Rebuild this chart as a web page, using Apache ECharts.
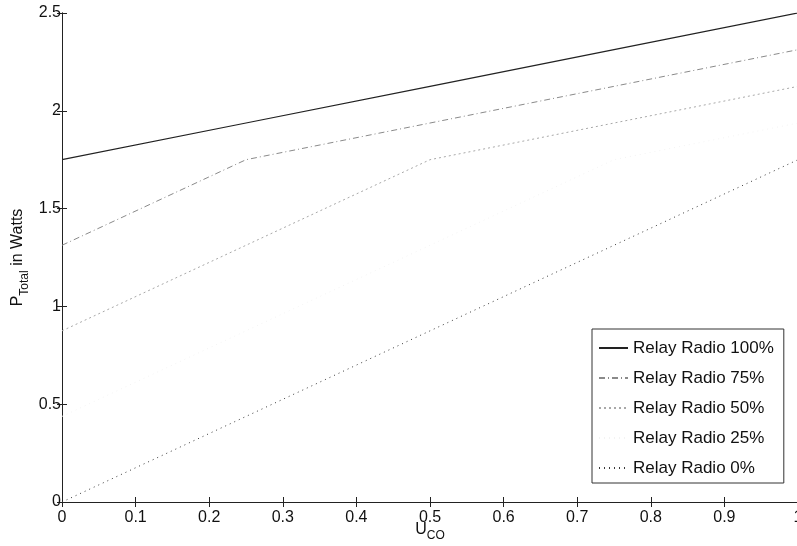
<!DOCTYPE html>
<html>
<head>
<meta charset="utf-8">
<script src="https://cdn.jsdelivr.net/npm/echarts@6/dist/echarts.min.js"></script>
<style>
html,body{margin:0;padding:0;background:#fff;}
#chart{width:797px;height:546px;}
</style>
</head>
<body>
<div id="chart"></div>
<script>
// Data
const uCo = [0, 0.25, 0.5, 0.75, 1];
const relay100 = [1.75, 1.9375, 2.125, 2.3125, 2.5];
const relay75 = [1.3125, 1.75, 1.9375, 2.125, 2.3125];
const relay50 = [0.875, 1.3125, 1.75, 1.9375, 2.125];
const relay25 = [0.4375, 0.875, 1.3125, 1.75, 1.9375];
const relay0 = [0, 0.4375, 0.875, 1.3125, 1.75];
const seriesNames = ['Relay Radio 100%', 'Relay Radio 75%', 'Relay Radio 50%', 'Relay Radio 25%', 'Relay Radio 0%'];
const xTicks = [0, 0.1, 0.2, 0.3, 0.4, 0.5, 0.6, 0.7, 0.8, 0.9, 1];
const yTicks = [0, 0.5, 1, 1.5, 2, 2.5];

const FONT = 'Liberation Sans, Arial, Helvetica, sans-serif';
const pairs = ys => uCo.map((u, i) => [u, ys[i]]);

const styles = [
  {color: '#222222', type: 'solid', width: 1.2},
  {color: '#8a8a8a', type: [6, 3, 1, 3], width: 1},
  {color: '#a8a8a8', type: [2, 3], width: 1},
  {color: '#f3f3f3', type: [1, 4], width: 1},
  {color: '#3a3a3a', type: [1, 4], width: 1}
];
const allData = [relay100, relay75, relay50, relay25, relay0];

const chart = echarts.init(document.getElementById('chart'), null, {renderer: 'canvas'});
const axisLineStyle = {color: '#222', width: 1};
chart.setOption({
  animation: false,
  backgroundColor: '#fff',
  textStyle: {fontFamily: FONT},
  grid: {left: 62, top: 13, right: -1, bottom: 44, containLabel: false, outerBoundsMode: 'none'},
  legend: {
    data: seriesNames,
    orient: 'vertical',
    left: 592,
    top: 329,
    padding: [9, 10, 5, 6],
    itemWidth: 29,
    itemHeight: 20,
    itemGap: 10,
    itemTextGap: 3,
    backgroundColor: '#fff',
    borderColor: '#333',
    borderWidth: 1,
    borderRadius: 0,
    itemStyle: {opacity: 0},
    textStyle: {fontFamily: FONT, fontSize: 17, color: '#111', lineHeight: 20}
  },
  xAxis: [{
    type: 'value', min: 0, max: 1, interval: 0.1,
    name: '{n|U}{s|CO}',
    nameLocation: 'middle', nameGap: 20, nameMoveOverlap: false,
    nameTextStyle: {
      verticalAlign: 'top',
      rich: {
        n: {fontFamily: FONT, fontSize: 16, color: '#111', lineHeight: 16, verticalAlign: 'top'},
        s: {fontFamily: FONT, fontSize: 12, color: '#111', lineHeight: 12, padding: [8, 0, 0, 0], verticalAlign: 'top'}
      }
    },
    axisLine: {show: true, lineStyle: axisLineStyle},
    axisTick: {show: true, inside: true, length: 5, lineStyle: axisLineStyle},
    splitLine: {show: false},
    axisLabel: {fontFamily: FONT, fontSize: 16, color: '#111', margin: 8,
      alignMinLabel: 'center', alignMaxLabel: 'center',
      formatter: v => String(+v.toFixed(1))}
  }, {
    type: 'value', min: 0, max: 1, interval: 0.1, position: 'top',
    axisLine: {show: true, lineStyle: axisLineStyle},
    axisTick: {show: true, inside: true, length: 5, lineStyle: axisLineStyle},
    axisLabel: {show: false}, splitLine: {show: false}
  }],
  yAxis: [{
    type: 'value', min: 0, max: 2.5, interval: 0.5,
    name: '{n|P}{s|Total}{n| in Watts}',
    nameLocation: 'middle', nameRotate: 90, nameGap: 36, nameMoveOverlap: false,
    nameTextStyle: {
      rich: {
        n: {fontFamily: FONT, fontSize: 16, color: '#111', lineHeight: 16, verticalAlign: 'top'},
        s: {fontFamily: FONT, fontSize: 12, color: '#111', lineHeight: 12, padding: [9, 0, 0, 0], verticalAlign: 'top'}
      }
    },
    axisLine: {show: true, lineStyle: axisLineStyle},
    axisTick: {show: true, inside: true, length: 5, lineStyle: axisLineStyle},
    splitLine: {show: false},
    axisLabel: {fontFamily: FONT, fontSize: 16, color: '#111', margin: 1,
      formatter: v => String(+v.toFixed(1))}
  }, {
    type: 'value', min: 0, max: 2.5, interval: 0.5, position: 'right',
    axisLine: {show: true, lineStyle: axisLineStyle},
    axisTick: {show: true, inside: true, length: 5, lineStyle: axisLineStyle},
    axisLabel: {show: false}, splitLine: {show: false}
  }],
  series: seriesNames.map((name, i) => ({
    name: name,
    type: 'line',
    xAxisIndex: 0, yAxisIndex: 0,
    data: pairs(allData[i]),
    symbol: 'none',
    color: styles[i].color,
    lineStyle: {color: styles[i].color, type: styles[i].type, width: styles[i].width},
    z: 5 - i
  }))
});
</script>
</body>
</html>
